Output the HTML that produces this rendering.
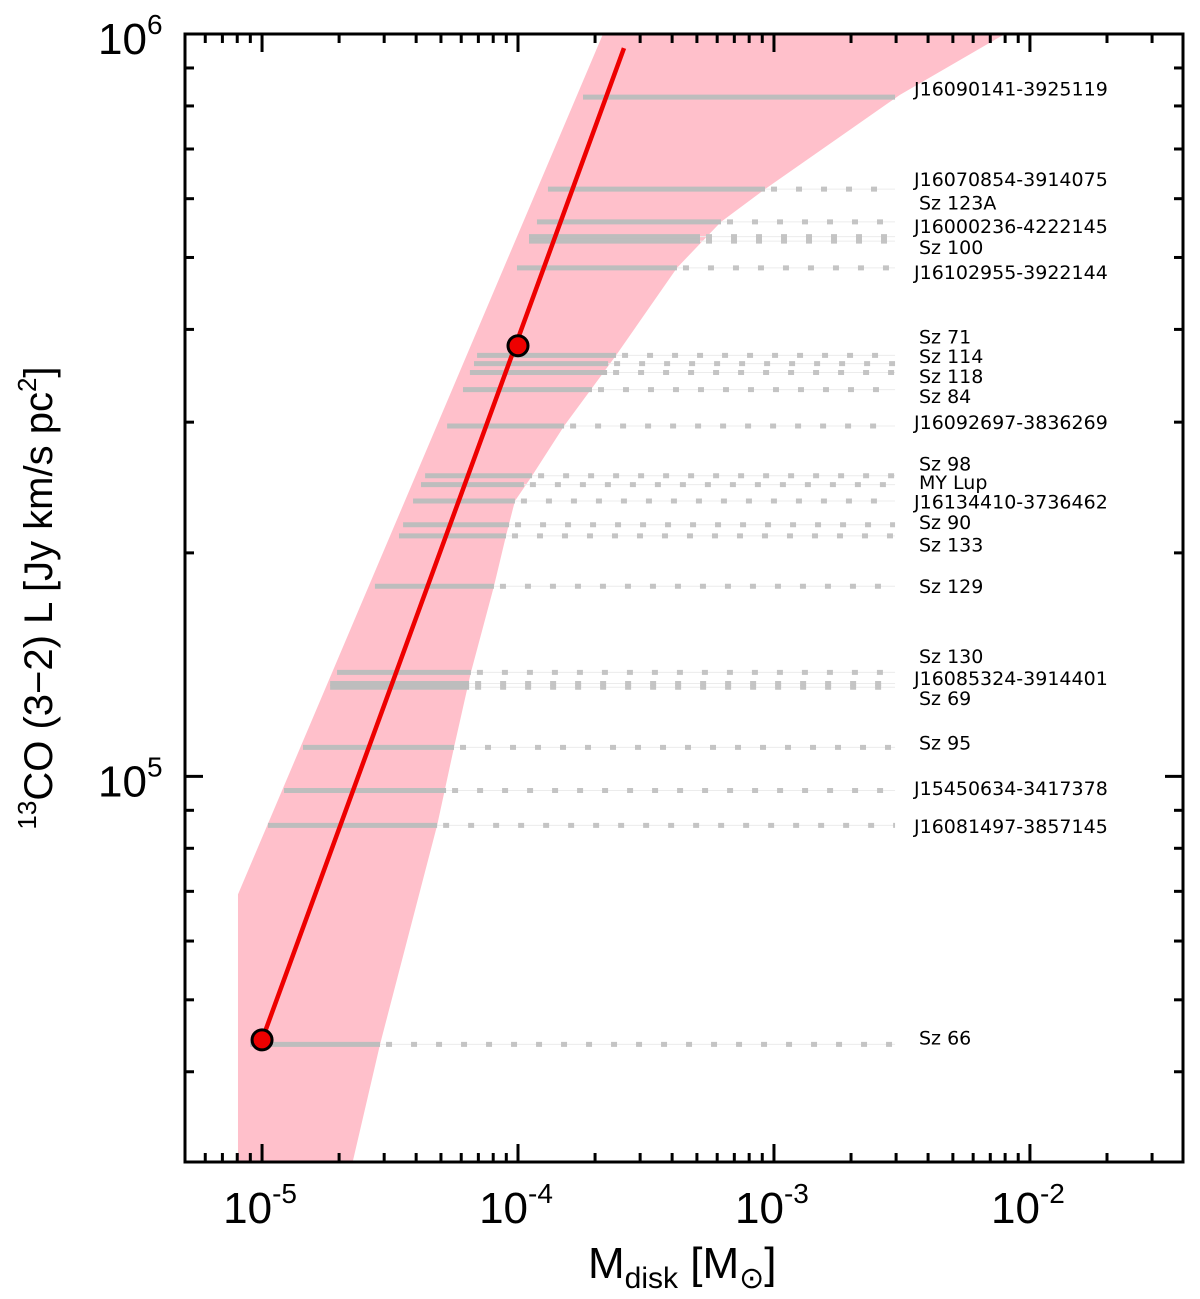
<!DOCTYPE html>
<html><head><meta charset="utf-8"><style>
html,body{margin:0;padding:0;background:#fff;}
svg{display:block;font-family:"Liberation Sans",Arial,sans-serif;}
</style></head><body>
<svg id="chart" width="1200" height="1299" viewBox="0 0 1200 1299" xmlns="http://www.w3.org/2000/svg">
<g id="band"></g>
<g id="src"></g>
<g id="fit"></g>
<g id="labels"></g>
<g id="axes"></g>
</svg>
<script>
// log10 Mdisk / log10 L data
const names = ["J16090141-3925119","J16070854-3914075","Sz 123A","J16000236-4222145","Sz 100","J16102955-3922144","Sz 71","Sz 114","Sz 118","Sz 84","J16092697-3836269","Sz 98","MY Lup","J16134410-3736462","Sz 90","Sz 133","Sz 129","Sz 130","J16085324-3914401","Sz 69","Sz 95","J15450634-3417378","J16081497-3857145","Sz 66"];
const logL = [5.915,5.791,5.747,5.727,5.721,5.685,5.567,5.556,5.544,5.521,5.472,5.405,5.393,5.371,5.339,5.324,5.256,5.140,5.125,5.120,5.039,4.981,4.934,4.639];
const logMmin = [-3.746,-3.883,-3.926,-3.957,-3.957,-4.004,-4.160,-4.172,-4.188,-4.215,-4.277,-4.363,-4.379,-4.410,-4.449,-4.465,-4.559,-4.707,-4.734,-4.734,-4.840,-4.914,-4.977,-5.047];
const logMsolid = [-2.527,-3.035,-3.207,-3.289,-3.289,-3.379,-3.617,-3.648,-3.652,-3.711,-3.820,-3.945,-3.977,-4.012,-4.035,-4.047,-4.094,-4.184,-4.191,-4.191,-4.250,-4.281,-4.316,-4.539];
const logMmax = -2.527;
const labelLogL = [5.925,5.803,5.772,5.740,5.712,5.678,5.591,5.565,5.538,5.511,5.476,5.420,5.395,5.369,5.341,5.311,5.255,5.161,5.131,5.104,5.044,4.983,4.932,4.647];
const bandLeft = [[-5.094,4.482],[-5.094,4.841],[-3.668,6.0]];
const bandRight = [[-2.098,6.0],[-2.508,5.918],[-2.703,5.871],[-3.035,5.791],[-3.207,5.747],[-3.379,5.685],[-3.617,5.567],[-3.820,5.472],[-3.945,5.405],[-4.012,5.371],[-4.047,5.324],[-4.094,5.256],[-4.184,5.140],[-4.250,5.039],[-4.316,4.934],[-4.539,4.639],[-4.645,4.482]];
const fitLine = [[-5,4.645],[-3.586,5.981]];
const markers = [[-5,4.645],[-4,5.58]];
const xTicks = [-5,-4,-3,-2];
const yTicks = [5,6];

const X0=185,X1=1183,Y0=34,Y1=1162;
const xmin=-5.301,xmax=-1.402,ymin=4.4805,ymax=6;
const sx=v=>X0+(v-xmin)/(xmax-xmin)*(X1-X0);
const sy=v=>Y1-(v-ymin)/(ymax-ymin)*(Y1-Y0);
const NS="http://www.w3.org/2000/svg";
function mk(tag,parent,attrs){const e=document.createElementNS(NS,tag);for(const k in attrs)e.setAttribute(k,attrs[k]);parent.appendChild(e);return e;}

const band=document.getElementById('band');
const pts=bandLeft.concat(bandRight).map(p=>sx(p[0])+','+sy(p[1])).join(' ');
const poly=mk('polygon',band,{points:pts,fill:'#ffc0cb'});



const src=document.getElementById('src');
for(let i=0;i<names.length;i++){
  const y=sy(logL[i]);
  if(logMsolid[i]<logMmax-0.01){
    const t=mk('line',src,{x1:sx(logMsolid[i]),x2:sx(logMmax),y1:y,y2:y,stroke:'#ececec','stroke-width':1});
    
    
    const d=mk('line',src,{x1:sx(logMsolid[i])+6,x2:sx(logMmax),y1:y,y2:y,stroke:'#c4c4c4','stroke-width':5,'stroke-dasharray':'6 19'});
    
    
  }
  const s=mk('line',src,{x1:sx(logMmin[i]),x2:sx(logMsolid[i]),y1:y,y2:y,stroke:'#bdbdbd','stroke-width':5});
  
  
}

const fit=document.getElementById('fit');
const fl=mk('line',fit,{x1:sx(fitLine[0][0]),y1:sy(fitLine[0][1]),x2:sx(fitLine[1][0]),y2:sy(fitLine[1][1]),stroke:'#ee0000','stroke-width':4.5});


markers.forEach(m=>{
  const c=mk('circle',fit,{cx:sx(m[0]),cy:sy(m[1]),r:10,fill:'#ee0000',stroke:'#000','stroke-width':3});
  
  
});

const lab=document.getElementById('labels');
names.forEach((n,i)=>{
  const isJ=n[0]==='J';
  const t=mk('text',lab,{x:isJ?914:919,y:sy(labelLogL[i])+6,'font-size':19,fill:'#000','font-family':'"DejaVu Sans",sans-serif'});
  t.textContent=n;
  
  
});

const ax=document.getElementById('axes');
const fr=mk('rect',ax,{x:X0,y:Y0,width:X1-X0,height:Y1-Y0,fill:'none',stroke:'#000','stroke-width':3});


function tick(x1,y1,x2,y2){const l=mk('line',ax,{x1,y1,x2,y2,stroke:'#000','stroke-width':3});}
for(let d=-6;d<=-1;d++){for(let k=1;k<=9;k++){const v=d+Math.log10(k);if(v<xmin||v>xmax)continue;const L=k===1?18:9;const x=sx(v);tick(x,Y1,x,Y1-L);tick(x,Y0,x,Y0+L);}}
for(let d=4;d<=5;d++){for(let k=1;k<=9;k++){const v=d+Math.log10(k);if(v<ymin||v>ymax+0.001)continue;const L=k===1?18:9;const y=sy(v);tick(X0,y,X0+L,y);tick(X1,y,X1-L,y);}}
xTicks.forEach(v=>{
  const t=mk('text',ax,{x:sx(v)-2,y:1223,'font-size':44,'text-anchor':'middle'});
  t.innerHTML='10<tspan dy="-20" font-size="28">'+v+'</tspan>';
  
  
});
yTicks.forEach(v=>{
  const t=mk('text',ax,{x:98,y:sy(v)+20,'font-size':44});
  t.innerHTML='10<tspan dy="-20" font-size="28">'+v+'</tspan>';
  
  
});
const xt=mk('text',ax,{x:588,y:1278,'font-size':44});
xt.innerHTML='M<tspan dy="10" font-size="30">disk</tspan><tspan dy="-10"> [M</tspan><tspan dy="10" font-size="30">⊙</tspan><tspan dy="-10">]</tspan>';


const yt=mk('text',ax,{x:0,y:0,'font-size':40,'text-anchor':'middle',transform:'translate(52,598) rotate(-90)'});
yt.innerHTML='<tspan dy="-16" font-size="26">13</tspan><tspan dy="16">CO (3−2) L [Jy km/s pc</tspan><tspan dy="-16" font-size="26">2</tspan><tspan dy="16">]</tspan>';


</script>
</body></html>
